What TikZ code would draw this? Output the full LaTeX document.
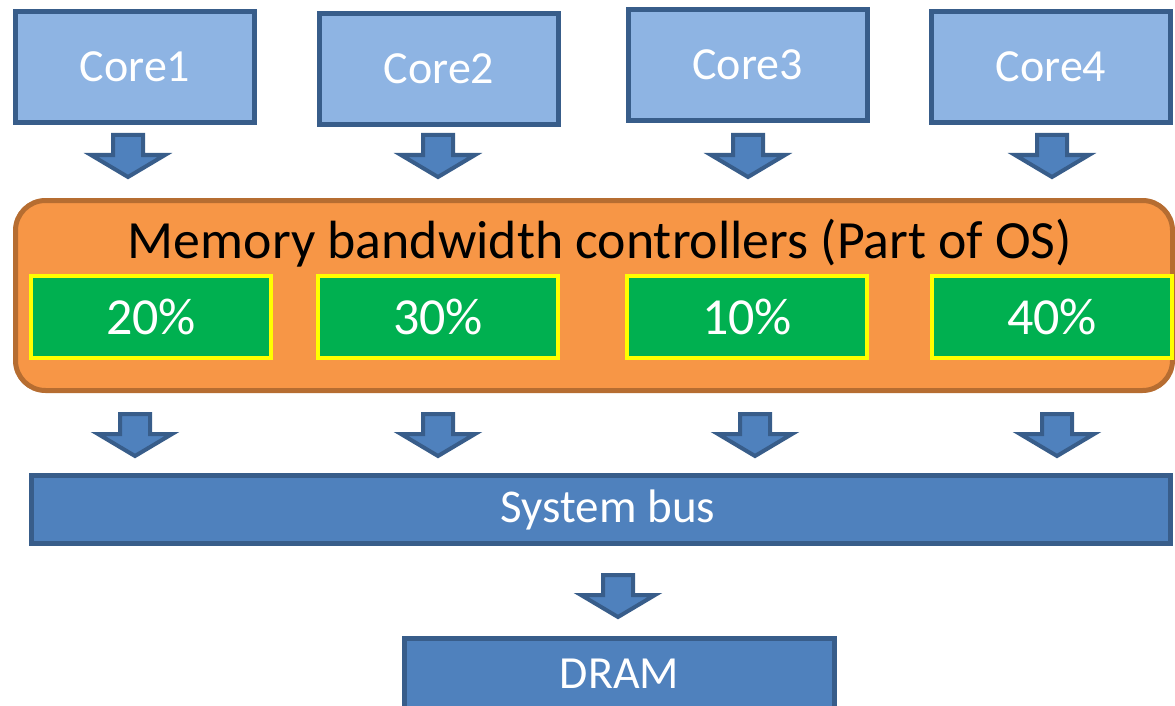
\documentclass[tikz,border=0pt]{standalone}
\usepackage{fontspec}
\setmainfont{Carlito}
\definecolor{corefill}{HTML}{8EB4E3}
\definecolor{blueedge}{HTML}{385D8A}
\definecolor{busfill}{HTML}{4F81BD}
\definecolor{ctrlfill}{HTML}{F79646}
\definecolor{ctrledge}{HTML}{B66D31}
\definecolor{sharefill}{HTML}{00B050}
\definecolor{shareedge}{HTML}{FFFF00}
\begin{document}
\begin{tikzpicture}[x=1pt,y=-1pt,
  corebox/.style={draw=blueedge, fill=corefill, line width=5pt, rectangle,
    inner sep=0pt, minimum width=239, minimum height=111, text=white,
    font=\fontsize{46}{46}\selectfont},
  ctrlbox/.style={draw=ctrledge, fill=ctrlfill, line width=5pt, rectangle,
    rounded corners=30pt, inner sep=0pt},
  sharebox/.style={draw=shareedge, fill=sharefill, line width=4pt, rectangle,
    inner sep=0pt, minimum width=240, minimum height=82, text=white,
    font=\fontsize{52}{52}\selectfont},
  busbox/.style={draw=blueedge, fill=busfill, line width=5pt, rectangle,
    inner sep=0pt, text=white},
  flowarrow/.style={draw=blueedge, fill=busfill, line width=4pt, line join=miter},
  downarrow/.pic={\path[flowarrow] (-15,2) -- (15,2) -- (15,22) -- (37,22)
    -- (0,44) -- (-37,22) -- (-15,22) -- cycle;}
]
\clip (0,0) rectangle (1175,706);

% cores
\node[corebox] (core1) at (135,67)   {Core1};
\node[corebox] (core2) at (439,69)   {Core2};
\node[corebox] (core3) at (747.5,65) {Core3};
\node[corebox] (core4) at (1051,67)  {Core4};

% arrows from the cores into the controllers
\pic at (128,133)  {downarrow};
\pic at (438,133)  {downarrow};
\pic at (748,133)  {downarrow};
\pic at (1052,133) {downarrow};

% memory bandwidth controllers
\node[ctrlbox, minimum width=1157, minimum height=190] (ctrl) at (594,295.5) {};
\node[anchor=base, inner sep=0pt, font=\fontsize{53.8}{54}\selectfont] (title)
  at (600,258) {Memory bandwidth controllers (Part of OS)};

\node[sharebox] (share1) at (151,317)  {20\%};
\node[sharebox] (share2) at (438,317)  {30\%};
\node[sharebox] (share3) at (747,317)  {10\%};
\node[sharebox] (share4) at (1052,317) {40\%};

% arrows from the controllers onto the bus
\pic at (135,412)  {downarrow};
\pic at (438,412)  {downarrow};
\pic at (755,412)  {downarrow};
\pic at (1057,412) {downarrow};

% system bus
\node[busbox, minimum width=1139, minimum height=68,
  font=\fontsize{47}{47}\selectfont] (bus) at (601,509.5) {\hspace{14pt}System bus};

\pic at (618,573) {downarrow};

% DRAM
\node[busbox, minimum width=430, minimum height=70,
  font=\fontsize{46}{46}\selectfont] (dram) at (619.5,673.5) {DRAM};
\end{tikzpicture}
\end{document}
